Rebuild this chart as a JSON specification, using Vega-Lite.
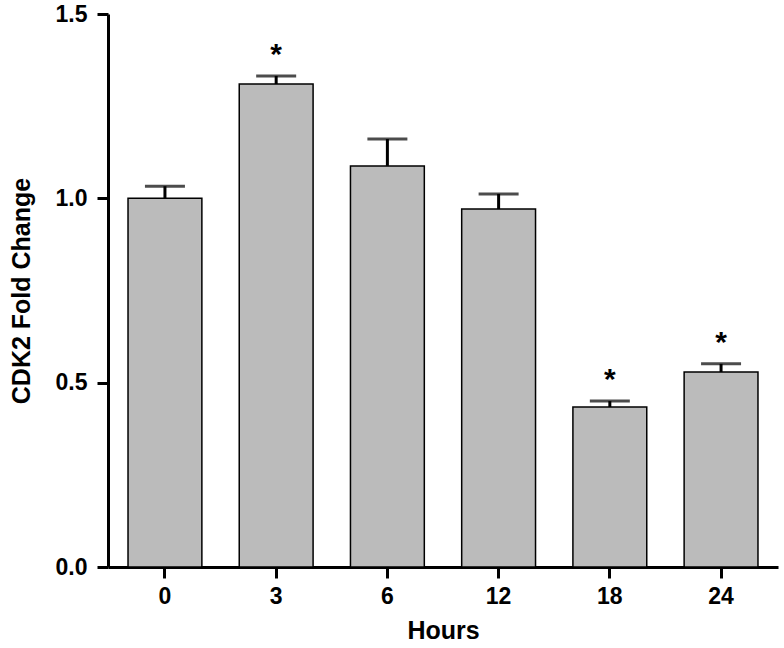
{
  "$schema": "https://vega.github.io/schema/vega-lite/v6.json",
  "width": 670,
  "height": 553,
  "autosize": {"type": "none"},
  "padding": {"left": 108, "top": 14, "right": 6, "bottom": 81},
  "background": "white",
  "config": {
    "view": {"stroke": null},
    "font": "Liberation Sans",
    "axis": {
      "domainColor": "black",
      "domainWidth": 3,
      "tickColor": "black",
      "tickWidth": 3,
      "tickSize": 11,
      "grid": false,
      "labelFont": "Liberation Sans",
      "labelFontWeight": "bold",
      "labelFontSize": 23,
      "labelColor": "black",
      "titleFont": "Liberation Sans",
      "titleFontWeight": "bold",
      "titleFontSize": 25,
      "titleColor": "black"
    }
  },
  "data": {
    "values": [
      {"hours": "0", "mean": 1.0, "upper": 1.033, "sig": ""},
      {"hours": "3", "mean": 1.31, "upper": 1.332, "sig": "*"},
      {"hours": "6", "mean": 1.088, "upper": 1.161, "sig": ""},
      {"hours": "12", "mean": 0.971, "upper": 1.012, "sig": ""},
      {"hours": "18", "mean": 0.434, "upper": 0.45, "sig": "*"},
      {"hours": "24", "mean": 0.529, "upper": 0.551, "sig": "*"}
    ]
  },
  "encoding": {
    "x": {
      "field": "hours",
      "type": "nominal",
      "sort": ["0", "3", "6", "12", "18", "24"],
      "scale": {"paddingInner": 0.336, "paddingOuter": 0.18},
      "axis": {"title": "Hours", "labelAngle": 0, "labelPadding": 7, "titlePadding": 10}
    }
  },
  "layer": [
    {
      "mark": {"type": "rule", "color": "black", "strokeWidth": 3},
      "encoding": {
        "y": {"field": "mean", "type": "quantitative"},
        "y2": {"field": "upper"}
      }
    },
    {
      "mark": {"type": "bar", "fill": "#bbbbbb", "stroke": "black", "strokeWidth": 1.5},
      "encoding": {
        "y": {
          "field": "mean",
          "type": "quantitative",
          "scale": {"domain": [0, 1.5], "nice": false},
          "axis": {"title": "CDK2 Fold Change", "values": [0, 0.5, 1.0, 1.5], "format": ".1f", "labelPadding": 10, "titlePadding": 21}
        }
      }
    },
    {
      "mark": {"type": "tick", "color": "black", "thickness": 3, "size": 40, "orient": "horizontal"},
      "encoding": {
        "y": {"field": "upper", "type": "quantitative"}
      }
    },
    {
      "mark": {"type": "text", "fontSize": 30, "fontWeight": "bold", "baseline": "alphabetic", "align": "center", "dy": -12, "color": "black"},
      "encoding": {
        "y": {"field": "upper", "type": "quantitative"},
        "text": {"field": "sig"}
      }
    }
  ]
}
